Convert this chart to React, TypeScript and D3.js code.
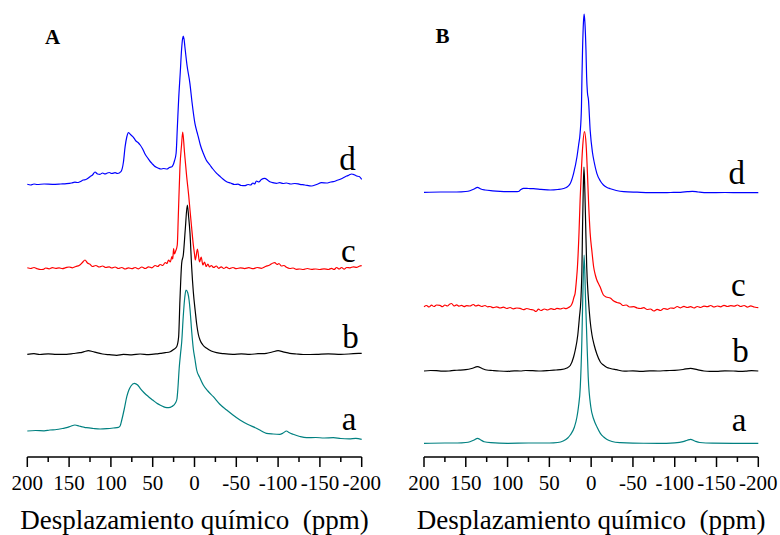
import React from "react";
import * as d3 from "d3";

type Pt = [number, number];

// ---------- DATA (ppm, stacked intensity in arbitrary units) ----------
const X_TICKS = [200, 150, 100, 50, 0, -50, -100, -150, -200];
const X_MINOR = [175, 125, 75, 25, -25, -75, -125, -175];
const AXIS_TITLE = "Desplazamiento químico  (ppm)";
const PANEL_NAMES = ["A", "B"];
const SERIES_NAMES = ["a", "b", "c", "d"];
const SERIES_COLORS = ["#008080", "#000000", "#ff0000", "#0000ff"];

const A_a: Pt[] = [[200,26],[190,26.5],[180,26.2],[173,27],[165,27.5],[158,28.5],[153,29.3],[148,30.8],[143,32],[138,31],[133,30],[129,29.3],[121,28.5],[113,28],[105,28.3],[97,29],[91,29.7],[89,31],[87,37],[84,48],[81,60.3],[78.5,67],[76,71],[72,73.7],[68,72],[65,68.7],[60,64],[55,60.3],[50,57],[45,53.7],[40,51.5],[35,49.7],[31,49.3],[27,50.5],[23,53.7],[21,58],[20,67],[18.2,90],[16.5,105],[15.3,115],[13.5,140],[11.6,160],[10.2,167],[8,164],[6.5,157],[5.4,148],[3.3,125],[1.4,108],[-0.5,98],[-2.6,87],[-6,80],[-10.5,72],[-16,66],[-22.5,60.3],[-30,53],[-38.5,47],[-46,42],[-54.4,37],[-64,32.5],[-74,28.7],[-80,26],[-86,23.7],[-94,23],[-102,22.7],[-106,24],[-110,26],[-113,24.5],[-118,22.7],[-126,20.5],[-134,19.3],[-145,19.5],[-155,19],[-166,19.3],[-175,18.5],[-185,18.2],[-193,18.6],[-200,17.7]];

const A_b: Pt[] = [[200,102.7],[192,103.3],[185,102.5],[175,103.2],[165,102.6],[153,102.7],[145,103.5],[137,104.3],[132,105.3],[127,106.3],[122,105.5],[117,104.3],[110,103],[102,102.3],[93,101.7],[85,102.6],[75,102.2],[65,103],[55,102.4],[45,103.2],[41,103.7],[35,104.3],[29,105.3],[25,107.5],[21.3,110.3],[19,120],[17.4,157],[15.3,194],[13.4,202],[11,228],[8.6,252],[7,240],[5.4,224],[3.4,190],[1.4,165],[-1,145],[-2.6,133],[-4.5,123],[-6.6,117],[-10,112],[-14.6,108.7],[-20,106],[-26.5,104.3],[-35,103.3],[-46,102.7],[-56,103.2],[-66,102.6],[-76,103.3],[-86,103.7],[-93,105],[-100,106.3],[-106,105.2],[-114,103.7],[-122,103],[-130,102.5],[-146,102.7],[-160,103.2],[-175,102.6],[-190,103.3],[-200,103.7]];

const A_c: Pt[] = [[200,189.3],[196,188.5],[192,189.5],[188,188.2],[184,187.5],[181,187.7],[178,189],[174,188.2],[170,189.4],[166,188.6],[162,189.2],[158,188.4],[154,189.3],[150,190],[146,189.2],[142,190.5],[138,191.5],[134,194.5],[131,197],[128,194],[125,192.7],[122,190.5],[118,191.5],[114,190],[110,191],[106,189.5],[102,190.2],[99,189],[95,190],[91,188.5],[87,189.5],[83,188],[79,189.2],[75,188.3],[71,189.5],[67,188.2],[63,190],[59,188.5],[55,190.2],[51,189.2],[47,191.5],[44,190.5],[41,192.5],[38,191.5],[35,194.5],[33,193.5],[31,197],[29,195],[27,200.3],[26,198],[25,208.5],[24,203],[22.5,206],[20.6,212],[19.4,240],[17.4,290],[15.5,312],[14.1,325],[12,305],[9.3,280],[7,262],[5.4,247],[3.5,230],[1.4,212],[0,203],[-1,197],[-3.5,208],[-6,195],[-8,200],[-10,192],[-12,195],[-14,190.5],[-16,193],[-18,190],[-20,191.5],[-23,189.5],[-26,191],[-29,188.7],[-32,190.2],[-35,188.5],[-38,189.8],[-42,188.4],[-46,189.5],[-50,188.3],[-55,189.2],[-60,188.4],[-65,189.3],[-70,188.3],[-75,189.5],[-80,188.7],[-85,190.5],[-90,192],[-94,194],[-96,194.3],[-99,192.5],[-101,193.5],[-104,191],[-107,191.5],[-110,189.7],[-114,188.5],[-118,189],[-122,187.7],[-126,188],[-130,187.5],[-135,188.5],[-140,187.6],[-145,188],[-150,187.5],[-155,188.2],[-160,187.5],[-164,188.7],[-167,187.5],[-170,189.5],[-173,188],[-176,189.5],[-179,187.8],[-182,189.5],[-186,189.2],[-190,190.2],[-194,189.7],[-197,190.8],[-200,191.3]];

const A_d: Pt[] = [[200,272.7],[196,272],[192,273],[188,272.5],[180,273],[170,272.7],[160,273],[153,273.3],[147,274],[143,274.8],[140,274.5],[137,275.3],[133,277],[130,277.5],[127,279],[125,280.3],[122,282],[119,285],[116,283],[113,282.7],[110,284],[107,283],[105,283.7],[102,284.5],[99,283.5],[95,284.3],[92,283.5],[88,285.3],[85,295],[83,310.3],[81,320],[79,324.3],[76,322],[73,319.7],[70,316],[67,314],[65,312],[62,308],[59,302.7],[56,299],[53,295.5],[51,293.7],[48,291],[45,289.5],[43,288.7],[40,288],[37,288.5],[33,288],[30,289.5],[27,290.3],[24,296],[22,303.7],[20.5,330],[19,357],[17,385],[15.5,407],[14.3,418],[13.5,421],[12.5,418],[11.5,410.3],[9,392],[5.5,373.7],[3,355],[-0.5,333.7],[-3,325],[-4.5,320.3],[-7,312],[-10.5,303.7],[-14,297],[-18.5,292],[-22,288],[-26.5,283.7],[-30,281],[-34,278],[-38.5,275.3],[-43,274],[-48,272.5],[-52,272.8],[-56,271.5],[-60,271.3],[-64,272.5],[-67,272],[-70,274],[-72,273],[-74,276],[-77,275],[-80,277.5],[-84,278.7],[-88,276.5],[-91,275],[-94,274.3],[-98,273.7],[-102,274.3],[-106,273.5],[-110,274],[-115,273],[-120,273.5],[-126,272.7],[-132,272],[-140,271],[-146,272.5],[-152,274.3],[-158,274],[-163,275],[-166,275.3],[-170,276.5],[-175,278],[-178,279.3],[-182,281],[-185,282],[-188,283],[-191,282.3],[-194,281],[-197,280.5],[-200,277.7]];

const B_a: Pt[] = [[200,13.7],[175,14],[160,14],[150,14.5],[145,15.3],[140,17],[136,18.7],[132,17],[128,15.3],[120,14.3],[100,13.7],[75,14],[50,14],[40,14.5],[33.5,16],[28,19],[25,22],[20,30],[17,40],[15.2,50],[13,70],[11.1,117],[10,160],[8.4,202],[6.8,160],[5.1,117],[3.5,80],[0.4,50],[-3,38],[-7,30],[-11,23.7],[-15,20],[-19,17.5],[-25,15.5],[-35,14.3],[-50,13.8],[-80,13.7],[-100,14.2],[-110,15.3],[-115,16.8],[-119,17.7],[-124,16],[-130,14.5],[-145,13.8],[-170,13.7],[-200,13.7]];

const B_b: Pt[] = [[200,86],[192,86.5],[185,86.3],[178,85.8],[170,86],[164,86.6],[158,86.8],[150,87.3],[143,88.5],[136,90.3],[130,88.3],[125,87],[118,86.5],[110,86],[100,85.7],[92,86.2],[85,86],[78,86.5],[70,86.3],[60,86],[50,86.5],[42,87],[37,87.3],[29,89],[25,91.5],[21,100],[19,107],[16,122],[14,140],[12.3,157],[11,190],[10.3,230],[9.5,265],[8.6,290],[7.5,265],[6.5,230],[5.3,190],[3.2,157],[1.2,136],[-1,122],[-3.6,112],[-6.8,103],[-11,95],[-14.7,92],[-19,89.5],[-23,88.5],[-30,87.3],[-40,85.8],[-50,86.2],[-60,85.7],[-70,86.1],[-80,86],[-90,86.4],[-100,86.7],[-110,87.5],[-119,88.7],[-127,87.3],[-135,86],[-142,85.6],[-150,85.7],[-160,86.2],[-170,86],[-178,85.6],[-185,85.8],[-192,86.3],[-200,86]];

const B_c: Pt[] = [[200,150.3],[197,151.5],[194,150],[191,151.8],[188,150.5],[185,152],[181,151.7],[178,150.3],[175,152],[172,151],[169,153],[167,153.5],[164,151],[161,152.2],[158,150.8],[155,151.6],[152,150.4],[149,151.3],[145,151],[141,152.5],[138,151],[135,151.8],[131,150.5],[127,151.5],[124,150.2],[121,150.5],[117,149.3],[113,150.2],[109,149],[105,149.8],[101,148.5],[97,149.5],[93,148.2],[89,149],[85,148.7],[81,147.3],[77,148.5],[73,147.5],[69,147],[66,145.5],[63,147.8],[60,146.5],[56,148],[52,147],[48,148.3],[44,147.5],[41,148.7],[37,148],[33,149],[30,148.3],[27,149.5],[24,151.5],[22,155.3],[20.5,160],[19.2,163.7],[17.5,178],[16.4,190],[14.5,225],[13.2,257],[11.5,290],[10,312],[8,325.3],[6,312],[4.5,285],[3.2,257],[1.2,224],[-1,205],[-3,190],[-5,182],[-6.8,177],[-9,173],[-10.8,170],[-13,165],[-14.7,162],[-18,160],[-22.8,159],[-27,156],[-31,154.5],[-35,153.5],[-38,151.5],[-42,152],[-46,150],[-51,150.3],[-55,149],[-59,148.5],[-63,149.3],[-67,147.5],[-71,148],[-75,146],[-79,147.7],[-83,146.5],[-87,148.5],[-91,147.7],[-95,149],[-99,148.7],[-103,150.5],[-107,149.2],[-111,150.6],[-115,149.5],[-119,150.3],[-123,149],[-127,150.5],[-131,149.5],[-135,150.8],[-139,150.3],[-143,151.5],[-147,150],[-151,151],[-155,150.2],[-159,151.7],[-163,150.5],[-167,151.3],[-171,150.8],[-175,152],[-179,150.5],[-183,151.5],[-187,149.8],[-191,151.2],[-195,150],[-198,149.5],[-200,149.3]];

const B_d: Pt[] = [[200,264.7],[180,265],[161,265],[150,265.5],[145,266.3],[140,268],[136,269.7],[132,268],[127,267],[118,266.2],[109,265.7],[98,265.4],[90,265.3],[87,265.5],[84,267.5],[81,268.7],[75,268.5],[69,268.3],[60,267.7],[49,267],[40,267.5],[33,268.5],[28,270.5],[25,273.5],[21,283.7],[17,300],[15,312],[13.2,324],[11.6,350],[11,380],[10.3,407],[9.2,435],[8.4,443],[7.5,435],[6.2,407],[5.4,380],[4.5,365],[3.2,357],[1.2,327],[-1.5,305],[-3.6,295],[-6.8,283.7],[-11,276],[-14.7,272],[-19,269.5],[-23,268.3],[-30,266.5],[-39,265.3],[-55,264.8],[-79,264.3],[-95,264.5],[-107,264.7],[-115,265.3],[-121,265.7],[-128,265],[-139,264.3],[-160,264.5],[-180,264.3],[-200,264.3]];

const PANEL_A_SERIES = [A_a, A_b, A_c, A_d];
const PANEL_B_SERIES = [B_a, B_b, B_c, B_d];

// ---------- LAYOUT ----------
const W = 780;
const H = 535;
const AXIS_Y = 457;
const FONT = "Liberation Serif, Times New Roman, DejaVu Serif, serif";

interface PanelLayout {
  x0: number;
  x1: number;
  nameX: number;
  nameY: number;
  labelX: number[];
  labelY: number[];
}

const LAYOUTS: PanelLayout[] = [
  { x0: 27.3, x1: 361.7, nameX: 45, nameY: 44, labelX: [349, 350.5, 348.3, 347.5], labelY: [430, 348, 262, 170] },
  { x0: 424, x1: 758.3, nameX: 435.5, nameY: 42.7, labelX: [739, 740.5, 738.3, 736.7], labelY: [430.5, 361.7, 296, 184] },
];

const yScale = d3.scaleLinear().domain([0, 440]).range([AXIS_Y, AXIS_Y - 440]);

const txt = (size: number, bold = false): React.CSSProperties => ({
  fontFamily: FONT,
  fontSize: `${size}px`,
  fontWeight: bold ? 700 : 400,
  whiteSpace: "pre",
});

function Panel({ series, layout, name }: { series: Pt[][]; layout: PanelLayout; name: string }) {
  const x = d3.scaleLinear().domain([200, -200]).range([layout.x0, layout.x1]);
  const line = d3
    .line<Pt>()
    .x((d) => x(d[0]))
    .y((d) => yScale(d[1]))
    .curve(d3.curveMonotoneX);
  const cx = (layout.x0 + layout.x1) / 2;
  return (
    <g>
      {series.map((s, i) => (
        <path key={i} d={line(s) ?? ""} fill="none" stroke={SERIES_COLORS[i]} strokeWidth={1.2} strokeLinejoin="round" />
      ))}
      {SERIES_NAMES.map((n, i) => (
        <text key={n} x={layout.labelX[i]} y={layout.labelY[i]} style={txt(33)} textAnchor="middle" fill="#000">
          {n}
        </text>
      ))}
      <text x={layout.nameX} y={layout.nameY} style={txt(21, true)} fill="#000">
        {name}
      </text>
      <line x1={x(200)} x2={x(-200)} y1={AXIS_Y} y2={AXIS_Y} stroke="#000" strokeWidth={1.5} />
      {X_TICKS.map((t) => (
        <g key={t}>
          <line x1={x(t)} x2={x(t)} y1={AXIS_Y} y2={AXIS_Y + 10} stroke="#000" strokeWidth={1.5} />
          <text x={x(t)} y={490} style={txt(21)} textAnchor="middle" fill="#000">
            {t}
          </text>
        </g>
      ))}
      {X_MINOR.map((t) => (
        <line key={t} x1={x(t)} x2={x(t)} y1={AXIS_Y} y2={AXIS_Y + 5} stroke="#000" strokeWidth={1.5} />
      ))}
      <text x={cx} y={529} style={txt(27)} textAnchor="middle" fill="#000">
        {AXIS_TITLE}
      </text>
    </g>
  );
}

export default function App() {
  return (
    <svg width={W} height={H} viewBox={`0 0 ${W} ${H}`} style={{ position: "absolute", left: 0, top: 0, background: "#fff" }}>
      <rect width={W} height={H} fill="#fff" />
      <Panel series={PANEL_A_SERIES} layout={LAYOUTS[0]} name={PANEL_NAMES[0]} />
      <Panel series={PANEL_B_SERIES} layout={LAYOUTS[1]} name={PANEL_NAMES[1]} />
    </svg>
  );
}
